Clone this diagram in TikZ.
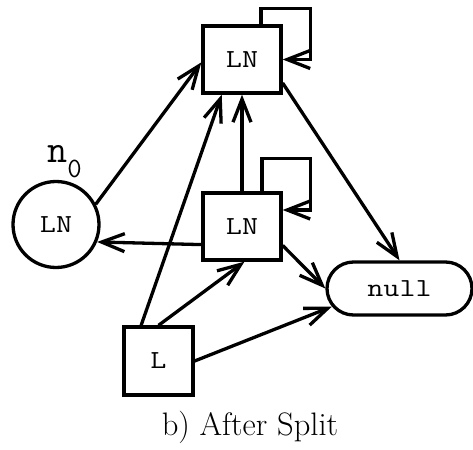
\documentclass[tikz,border=0pt]{standalone}
\usepackage{fontspec}
\setmonofont{Latin Modern Mono}[FakeStretch=1.2]
\newfontfamily\ttplain{Latin Modern Mono}
\usetikzlibrary{arrows.meta,shapes.misc,calc}
\tikzset{
  lnbox/.style={draw, line width=3.3pt, rectangle, inner sep=0pt, minimum width=78pt, minimum height=67pt, font=\fontsize{26}{26}\selectfont\ttfamily},
  lbox/.style={draw, line width=3.3pt, rectangle, inner sep=0pt, minimum width=69pt, minimum height=68pt, font=\fontsize{26}{26}\selectfont\ttfamily},
  lncirc/.style={draw, line width=3.3pt, circle, inner sep=0pt, minimum size=86pt, font=\fontsize{26}{26}\selectfont\ttfamily},
  nullbox/.style={draw, line width=3.3pt, rounded rectangle, inner sep=0pt, minimum width=145pt, minimum height=53pt, font=\fontsize{26}{26}\selectfont\ttfamily},
  arr/.style={line width=3.3pt, -{Straight Barb[length=23pt,width=18pt,line width=3.3pt]}},
}
\begin{document}
\begin{tikzpicture}[x=1pt,y=-1pt]
\useasboundingbox (0,0) rectangle (473,449);
\node[lnbox] (t) at (242,59.5) {LN};
\node[lnbox] (m) at (242,226.5) {LN};
\node[lncirc] (c) at (56,224.5) {LN};
\node[lbox] (L) at (158.5,361) {L};
\node[nullbox] (null) at (399.5,288.5) {null};
\node[anchor=base west, inner sep=0pt, font=\ttplain] (n0) at (47,162) {\fontsize{39}{39}\selectfont n\raisebox{-15pt}{\fontsize{28}{28}\selectfont 0}};
\node[anchor=base, inner sep=0pt, font=\fontsize{32.5}{32.5}\selectfont] (cap) at (250,435) {b) After Split};
\draw[arr] (c.27) -- (t.184);
\draw[arr] (m.204) -- (c.-23);
\draw[arr] (L.116) -- (t.240);
\draw[arr] (m.north) -- (t.south);
\draw[arr] (t.-30) -- (null.north);
\draw[arr] (m.-25) -- (null.west);
\draw[arr] (L.north) -- (m.-86);
\draw[arr] (L.east) -- (null.195);
\draw[arr] ([xshift=19pt]t.north) -- ++(0,-16) -| ([xshift=28pt]t.east) -- (t.east);
\draw[arr] ([xshift=20pt]m.north) -- ++(0,-33) -| ([xshift=28pt,yshift=16.5pt]m.east) -- ([yshift=16.5pt]m.east);
\end{tikzpicture}
\end{document}
